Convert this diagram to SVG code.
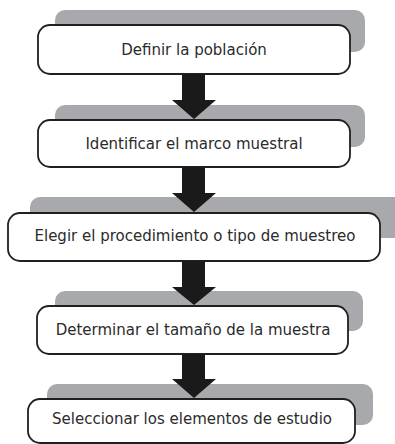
<svg xmlns="http://www.w3.org/2000/svg" width="395" height="444" viewBox="0 0 395 444">
<style>
.sh{fill:#a7a9ac;}
.bx{fill:#ffffff;stroke:#231f20;stroke-width:1.8;}
.tx{font-family:"DejaVu Sans",Verdana,sans-serif;font-size:15px;fill:#2b2b2b;text-anchor:middle;}
.ar{fill:#1a1a1a;}
</style>
<rect width="395" height="444" fill="#ffffff"/>
<g id="node1">
<rect class="sh" x="55" y="10" width="310" height="42" rx="10"/>
<rect class="bx" x="38" y="25" width="312" height="49" rx="12"/>
<text class="tx" x="194" y="55">Definir la población</text>
</g>
<g id="node2">
<rect class="sh" x="55" y="105" width="310" height="42" rx="10"/>
<rect class="bx" x="38" y="120" width="312" height="47" rx="12"/>
<text class="tx" x="194" y="149">Identificar el marco muestral</text>
</g>
<g id="node3">
<rect class="sh" x="30" y="197" width="380" height="41" rx="10"/>
<rect class="bx" x="8" y="213" width="372" height="48" rx="12"/>
<text class="tx" x="195" y="241">Elegir el procedimiento o tipo de muestreo</text>
</g>
<g id="node4">
<rect class="sh" x="55" y="291" width="308" height="40" rx="10"/>
<rect class="bx" x="37" y="306" width="311" height="48" rx="12"/>
<text class="tx" x="193" y="335">Determinar el tamaño de la muestra</text>
</g>
<g id="node5">
<rect class="sh" x="47" y="384" width="326" height="41" rx="10"/>
<rect class="bx" x="28" y="399" width="327" height="44" rx="12"/>
<text class="tx" x="192" y="424">Seleccionar los elementos de estudio</text>
</g>
<g id="connectors">
<polygon class="ar" points="182,74 205,74 205,100 216,100 194,119 172,100 182,100"/>
<polygon class="ar" points="182,167 205,167 205,193 216,193 194,212 172,193 182,193"/>
<polygon class="ar" points="182,261 205,261 205,287 216,287 194,305 172,287 182,287"/>
<polygon class="ar" points="182,354 205,354 205,379 216,379 194,398 172,379 182,379"/>
</g>
</svg>
